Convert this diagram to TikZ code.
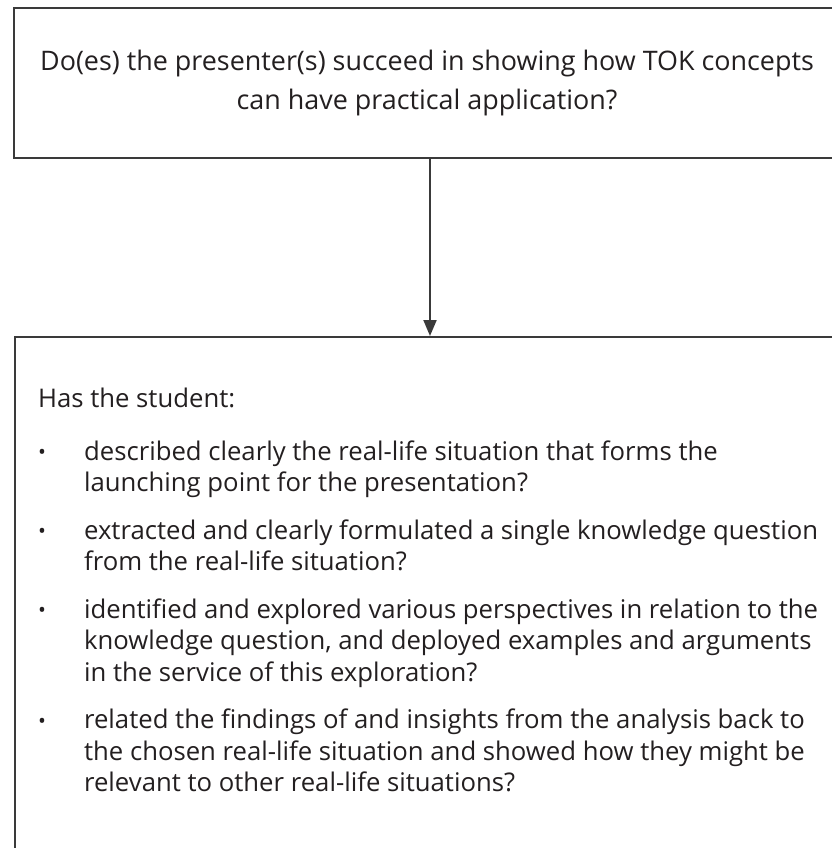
\documentclass[tikz,border=0pt]{standalone}
\usepackage{fontspec}
\setmainfont{Open Sans}
\usepackage{enumitem}
\usepackage{tikz}
\usetikzlibrary{arrows.meta,positioning}
\definecolor{TokLine}{HTML}{3A3A3A}
\definecolor{TokInk}{HTML}{231F20}
\newcommand{\tokdot}{\raisebox{0.5pt}{\fontsize{21}{21}\selectfont\textbullet}}

\begin{document}
\begin{tikzpicture}[x=1pt,y=-1pt,
  qbox/.style={draw=TokLine,line width=2.2pt,text=TokInk,minimum width=826pt,inner sep=0pt},
  flow/.style={-{Triangle[length=16pt,width=13pt]},line width=2pt,TokLine}]
\useasboundingbox (0,0) rectangle (831,848);
\node[qbox,minimum height=150pt,align=center,font=\fontsize{26.9}{39}\selectfont] (question) at (427,83)
  {Do(es) the presenter(s) succeed in showing how TOK concepts\\can have practical application?};
\node[qbox,anchor=north west,inner xsep=23pt,inner ysep=14pt,font=\fontsize{25.7}{31.5}\selectfont] (checklist) at (14,336)
  {\parbox[t][520pt][t]{780pt}{\vspace*{37pt}Has the student:
  \begin{itemize}[leftmargin=46pt,labelindent=0pt,labelsep=0pt,labelwidth=46pt,align=left,
    label=\tokdot,topsep=21pt,partopsep=0pt,itemsep=16pt,parsep=0pt]
  \item described clearly the real-life situation that forms the\\launching point for the presentation?
  \item extracted and clearly formulated a single knowledge question\\from the real-life situation?
  \item identified and explored various perspectives in relation to the\\knowledge question, and deployed examples and arguments\\in the service of this exploration?
  \item related the findings of and insights from the analysis back to\\the chosen real-life situation and showed how they might be\\relevant to other real-life situations?
  \end{itemize}}};
\draw[flow] (question.south -| 430,0) -- (checklist.north -| 430,0);
\end{tikzpicture}
\end{document}
